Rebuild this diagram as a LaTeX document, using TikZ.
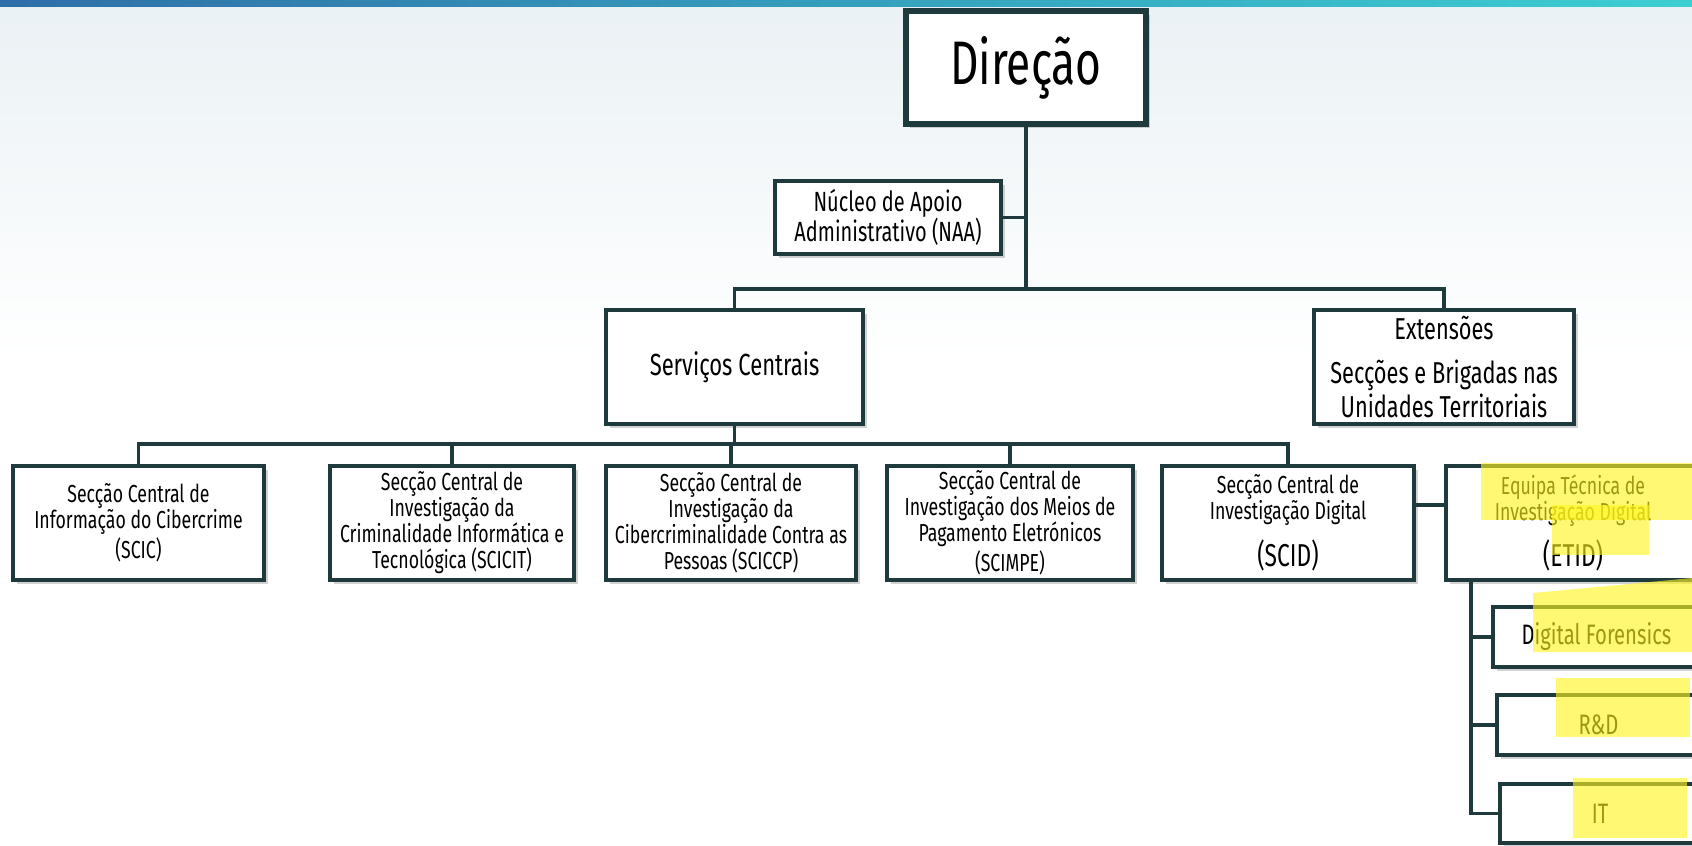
\documentclass[tikz,border=0pt]{standalone}
\usepackage{fontspec}
\setmainfont[FakeStretch=0.72]{Fira Sans}
\usepackage{tikz}
\usetikzlibrary{shadows}

\definecolor{linec}{HTML}{1E3A3D}
\definecolor{bandl}{HTML}{2F6FA8}
\definecolor{bandr}{HTML}{3CCFD2}
\definecolor{bgtop}{HTML}{EAF1F4}
\definecolor{hilite}{HTML}{FFF51E}

\tikzset{
  box/.style={draw=linec, line width=1pt, fill=white, align=center, inner sep=0pt,
    drop shadow={shadow xshift=1.2pt, shadow yshift=-1.2pt, opacity=0.35},
    font=\fontsize{7}{7.4}\selectfont},
  conn/.style={draw=linec, line width=1.1pt},
  hl/.style={fill=hilite, fill opacity=0.62, draw=none}
}

\begin{document}
\begin{tikzpicture}[x=1cm, y=1cm]
    % background
    \useasboundingbox (0,0) rectangle (16.92,-8.45);
    \fill[white] (0,0) rectangle (16.92,-8.45);
    \shade[top color=bgtop, bottom color=white] (0,0) rectangle (16.92,-3.6);
    \shade[left color=bandl, right color=bandr] (0,0) rectangle (16.92,-0.06);
    \clip (0,0) rectangle (16.92,-8.45);

    \node[box, line width=1.6pt, minimum width=2.4cm, minimum height=1.13cm,
      font=\fontsize{17.5}{19}\selectfont] (dir) at (10.26,-0.675) {Direção};
    \node[box, minimum width=2.26cm, minimum height=0.73cm,
      font=\fontsize{7.9}{8.6}\selectfont] (naa) at (8.88,-2.175) {Núcleo de Apoio\\Administrativo (NAA)};
    \node[box, minimum width=2.57cm, minimum height=1.14cm,
      font=\fontsize{8.7}{9}\selectfont] (serv) at (7.345,-3.67) {Serviços Centrais};
    \node[box, minimum width=2.6cm, minimum height=1.14cm,
      font=\fontsize{8.6}{8.6}\selectfont] (ext) at (14.44,-3.67)
      {Extensões\\[4pt]Secções e Brigadas nas\\Unidades Territoriais};

    % seccoes centrais
    \node[box, minimum width=2.51cm, minimum height=1.14cm] (scic) at (1.385,-5.23)
      {Secção Central de\\Informação do Cibercrime\\(SCIC)};
    \node[box, minimum width=2.44cm, minimum height=1.14cm] (scicit) at (4.52,-5.23)
      {Secção Central de\\Investigação da\\Criminalidade Informática e\\Tecnológica (SCICIT)};
    \node[box, minimum width=2.5cm, minimum height=1.14cm] (sciccp) at (7.31,-5.23)
      {Secção Central de\\Investigação da\\Cibercriminalidade Contra as\\Pessoas (SCICCP)};
    \node[box, minimum width=2.46cm, minimum height=1.14cm] (scimpe) at (10.1,-5.23)
      {Secção Central de\\Investigação dos Meios de\\Pagamento Eletrónicos\\(SCIMPE)};
    \node[box, minimum width=2.52cm, minimum height=1.14cm] (scid) at (12.88,-5.23)
      {Secção Central de\\Investigação Digital\\[3pt]{\fontsize{9}{10}\selectfont(SCID)}};
    \node[box, minimum width=2.54cm, minimum height=1.14cm] (etid) at (15.73,-5.23)
      {Equipa Técnica de\\Investigação Digital\\[3pt]{\fontsize{9}{10}\selectfont(ETID)}};

    % ETID
    \node[box, minimum width=2.07cm, minimum height=0.6cm,
      font=\fontsize{8}{9}\selectfont] (df) at (15.965,-6.37) {Digital Forensics};
    \node[box, minimum width=2.03cm, minimum height=0.6cm,
      font=\fontsize{8}{9}\selectfont] (rd) at (15.985,-7.25) {R\&D};
    \node[box, minimum width=2.0cm, minimum height=0.59cm,
      font=\fontsize{8}{9}\selectfont] (it) at (16.0,-8.135) {IT};

    \coordinate (b1) at (10.26,-2.89);
    \coordinate (b2) at (7.345,-4.46);
    \coordinate (t) at ([xshift=0.27cm]etid.south west);

    \draw[conn] (dir) -- (b1);
    \draw[conn] (naa.east) -- (naa.east -| dir.south);
    \draw[conn] (serv.north) |- (b1) -| (ext.north);
    \draw[conn] (serv.south) -- (b2);
    \draw[conn] (scic.north) -- ++(0,0.2) -| (scid.north);
    \foreach \n in {scicit,sciccp,scimpe}
      \draw[conn] (\n.north) -- (\n.north |- b2);
    \draw[conn] ([yshift=0.18cm]scid.east) -- ([yshift=0.18cm]scid.east -| etid.west);
    \draw[conn] (t) |- (it.west);
    \draw[conn] (df.west) -- (df.west -| t);
    \draw[conn] (rd.west) -- (rd.west -| t);

    % marcador
    \fill[hl] (14.81,-4.63) rectangle (16.92,-5.2);
    \fill[hl] (15.52,-5.05) rectangle (16.49,-5.55);
    \fill[hl] (15.33,-5.93) -- (16.92,-5.78) -- (16.92,-6.52) -- (15.33,-6.52) -- cycle;
    \fill[hl] (15.56,-6.78) rectangle (16.9,-7.37);
    \fill[hl] (15.73,-7.78) rectangle (16.87,-8.38);
\end{tikzpicture}
\end{document}
